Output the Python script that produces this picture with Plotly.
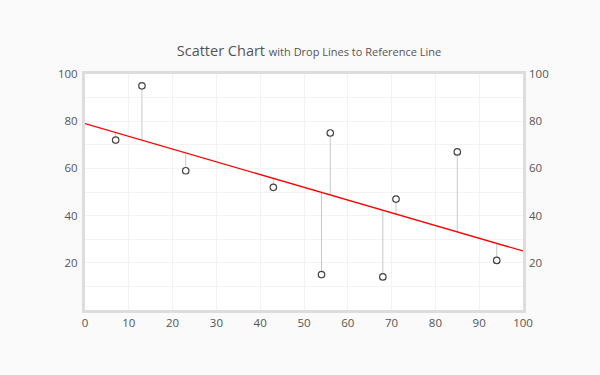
import plotly.graph_objects as go

x_vals = [7, 13, 23, 43, 54, 56, 68, 71, 85, 94]
y_vals = [72, 95, 59, 52, 15, 75, 14, 47, 67, 21]
ref_x = [0, 100]
ref_y = [79, 25]
y_ticks = [20, 40, 60, 80, 100]
x_ticks = [0, 10, 20, 30, 40, 50, 60, 70, 80, 90, 100]

slope = (ref_y[1] - ref_y[0]) / (ref_x[1] - ref_x[0])
def ref_at(x):
    return ref_y[0] + slope * (x - ref_x[0])

drop_x, drop_y = [], []
for xv, yv in zip(x_vals, y_vals):
    drop_x += [xv, xv, None]
    drop_y += [yv, ref_at(xv), None]

FONT = "Open Sans"
fig = go.Figure()
fig.add_trace(go.Scatter(x=drop_x, y=drop_y, mode="lines",
                         line=dict(color="#c8c8c8", width=1), hoverinfo="skip", showlegend=False))
fig.add_trace(go.Scatter(x=ref_x, y=ref_y, mode="lines",
                         line=dict(color="#ff0000", width=1.3), showlegend=False))
fig.add_trace(go.Scatter(x=x_vals, y=y_vals, mode="markers",
                         marker=dict(symbol="circle", size=6.5, color="white",
                                     line=dict(color="#444", width=1.2)), showlegend=False))
fig.add_trace(go.Scatter(x=[None], y=[None], yaxis="y2", showlegend=False))

axis_common = dict(showline=True, linecolor="#dddddd", linewidth=3, mirror=True,
                   gridcolor="#f3f3f3", gridwidth=1, zeroline=False, ticks="",
                   tickfont=dict(family=FONT, size=11.5, color="#555555"))
fig.update_layout(
    width=600, height=375,
    paper_bgcolor="#fafafa", plot_bgcolor="white",
    margin=dict(l=85, r=77, t=74, b=65),
    title=dict(text="Scatter Chart <span style='font-size:11px'>with Drop Lines to Reference Line</span>",
               x=0.515, xanchor="center", y=0.865, yanchor="middle",
               font=dict(family=FONT, size=14.5, color="#555555")),
    xaxis=dict(range=[0, 100], tickvals=x_ticks, **axis_common),
    yaxis=dict(range=[0, 100], tickvals=[10, 20, 30, 40, 50, 60, 70, 80, 90, 100],
               ticktext=["", "20", "", "40", "", "60", "", "80", "", "100"],
               ticklabelstandoff=2, **axis_common),
    yaxis2=dict(range=[0, 100], overlaying="y", side="right",
                tickvals=y_ticks, showgrid=False, showline=False, zeroline=False, ticks="",
                ticklabelstandoff=5,
                tickfont=dict(family=FONT, size=11.5, color="#555555")),
)
fig.write_html("out.html", config={"displayModeBar": False},
               post_script="document.body.style.margin='0';document.body.style.background='#fafafa';")
